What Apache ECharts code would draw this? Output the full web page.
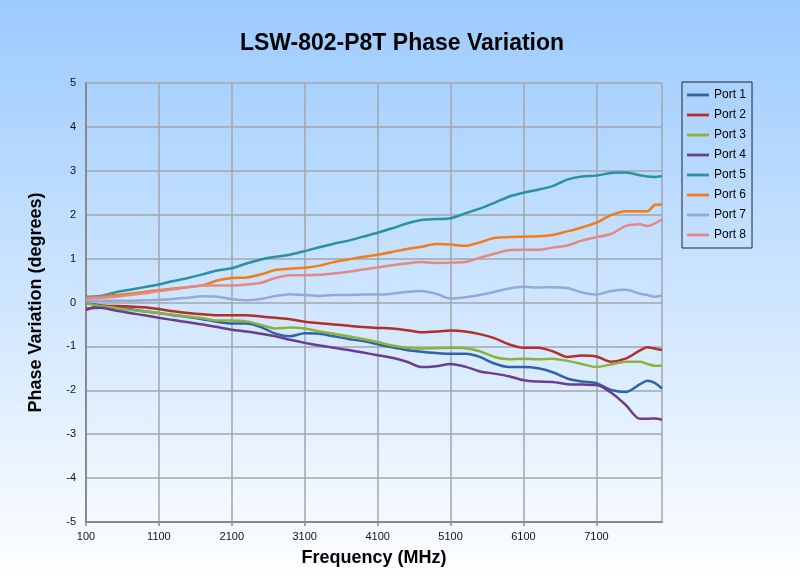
<!DOCTYPE html>
<html>
<head>
<meta charset="utf-8">
<script src="https://cdn.jsdelivr.net/npm/echarts@6/dist/echarts.min.js"></script>
<style>
html,body{margin:0;padding:0;}
#c{width:800px;height:581px;}
</style>
</head>
<body>
<div id="c"></div>
<script>
const freq = [100,300,500,700,900,1100,1300,1500,1700,1900,2100,2300,2500,2700,2900,3100,3300,3500,3700,3900,4100,
  4300,4500,4700,4900,5100,5300,5500,5700,5900,6100,6300,6500,6700,6900,7100,7300,7500,7700,7800,7900,8000];
const seriesNames = ['Port 1','Port 2','Port 3','Port 4','Port 5','Port 6','Port 7','Port 8'];
const port1 = [-0.02,-0.06,-0.11,-0.15,-0.20,-0.24,-0.29,-0.33,-0.38,-0.44,-0.48,-0.48,-0.56,-0.71,-0.77,-0.70,-0.71,-0.77,-0.83,-0.88,-0.95,
  -1.02,-1.08,-1.12,-1.15,-1.17,-1.17,-1.24,-1.39,-1.47,-1.47,-1.50,-1.59,-1.73,-1.80,-1.84,-1.99,-2.04,-1.86,-1.78,-1.83,-1.96];
const port2 = [-0.17,-0.08,-0.08,-0.09,-0.11,-0.15,-0.20,-0.24,-0.27,-0.29,-0.29,-0.29,-0.32,-0.35,-0.38,-0.44,-0.47,-0.50,-0.53,-0.56,-0.58,
  -0.59,-0.63,-0.68,-0.66,-0.64,-0.66,-0.72,-0.81,-0.95,-1.03,-1.03,-1.11,-1.24,-1.21,-1.23,-1.35,-1.28,-1.09,-1.02,-1.05,-1.08];
const port3 = [-0.02,-0.08,-0.12,-0.17,-0.20,-0.24,-0.28,-0.32,-0.36,-0.41,-0.41,-0.43,-0.51,-0.59,-0.57,-0.59,-0.66,-0.71,-0.77,-0.83,-0.90,
  -0.98,-1.03,-1.05,-1.04,-1.03,-1.04,-1.11,-1.24,-1.29,-1.28,-1.29,-1.28,-1.33,-1.40,-1.47,-1.41,-1.35,-1.35,-1.40,-1.44,-1.44];
const port4 = [-0.14,-0.12,-0.18,-0.24,-0.29,-0.35,-0.40,-0.45,-0.50,-0.56,-0.62,-0.66,-0.71,-0.77,-0.85,-0.92,-0.98,-1.03,-1.08,-1.14,-1.20,
  -1.26,-1.35,-1.47,-1.45,-1.40,-1.46,-1.57,-1.62,-1.68,-1.77,-1.80,-1.81,-1.86,-1.87,-1.88,-2.05,-2.33,-2.65,-2.65,-2.64,-2.67];
const port5 = [0.13,0.15,0.23,0.29,0.35,0.41,0.49,0.56,0.64,0.73,0.78,0.89,0.98,1.04,1.09,1.17,1.26,1.34,1.41,1.50,1.59,
  1.69,1.80,1.88,1.90,1.92,2.03,2.14,2.27,2.41,2.50,2.57,2.65,2.80,2.87,2.89,2.95,2.96,2.90,2.87,2.86,2.88];
const port6 = [0.11,0.13,0.17,0.20,0.24,0.28,0.32,0.35,0.39,0.50,0.56,0.57,0.64,0.74,0.77,0.79,0.84,0.92,0.98,1.04,1.09,
  1.15,1.22,1.27,1.33,1.32,1.29,1.37,1.47,1.49,1.50,1.51,1.54,1.62,1.71,1.82,1.99,2.08,2.08,2.08,2.22,2.23];
const port7 = [0.04,0.04,0.04,0.04,0.05,0.06,0.08,0.11,0.14,0.13,0.08,0.05,0.08,0.15,0.19,0.17,0.15,0.17,0.17,0.18,0.18,
  0.20,0.24,0.26,0.20,0.09,0.12,0.17,0.24,0.32,0.36,0.34,0.35,0.33,0.23,0.18,0.26,0.29,0.20,0.17,0.13,0.16];
const port8 = [0.09,0.11,0.13,0.17,0.21,0.26,0.30,0.35,0.39,0.39,0.39,0.41,0.45,0.56,0.62,0.62,0.63,0.66,0.70,0.75,0.80,
  0.85,0.89,0.92,0.90,0.91,0.92,1.02,1.11,1.19,1.20,1.20,1.25,1.30,1.41,1.49,1.56,1.74,1.78,1.74,1.80,1.89];
const colors = ['#2f62a9','#b52d28','#8cb23c','#6a3e8e','#2a91a5','#f07c1c','#92aad5','#e28985'];
const allPorts = [port1,port2,port3,port4,port5,port6,port7,port8];

const FONT = '"Liberation Sans", Arial, sans-serif';
// legend line sample: thin bar centred inside a 22x14 box (outer moveTo points fix the bounding box)
const LEGEND_LINE = 'path://M0,0 L0,0 M0,5.6 L22,5.6 L22,8.4 L0,8.4 Z M22,14 L22,14';
const chart = echarts.init(document.getElementById('c'), null, {renderer:'canvas'});
chart.setOption({
  animation: false,
  backgroundColor: new echarts.graphic.LinearGradient(0,0,0,1,[
    {offset:0,color:'#9bcafe'},{offset:1,color:'#ffffff'}]),
  title: {
    text: 'LSW-802-P8T Phase Variation',
    left: 397, top: 27, textAlign: 'center',
    textStyle: {fontFamily: FONT, fontSize: 23, fontWeight: 'bold', color: '#000'}
  },
  legend: {
    data: seriesNames.map(n => ({name: n, icon: LEGEND_LINE})),
    orient: 'vertical',
    left: 682, top: 82,
    itemWidth: 22, itemHeight: 14, itemGap: 6,
    padding: [6,6,6,5],
    borderColor: '#222', borderWidth: 1,
    textStyle: {fontFamily: FONT, fontSize: 12, color: '#000'}
  },
  grid: {left: 86, top: 83, right: 138, bottom: 59, containLabel: false},
  xAxis: {
    type: 'value', min: 100, max: 8000, interval: 1000,
    name: 'Frequency (MHz)', nameLocation: 'middle', nameGap: 27,
    nameTextStyle: {fontFamily: FONT, fontSize: 18, fontWeight: 'bold', color: '#000'},
    axisLine: {show: true, onZero: false, lineStyle: {color: '#8a8a8a', width: 2}},
    axisTick: {show: true, length: 4, lineStyle: {color: '#8a8a8a', width: 1.5}},
    axisLabel: {fontFamily: FONT, fontSize: 11, color: '#111', margin: 9, showMaxLabel: false,
      formatter: v => String(v)},
    splitLine: {show: true, lineStyle: {color: '#a2a6ab', width: 1.5}}
  },
  yAxis: {
    type: 'value', min: -5, max: 5, interval: 1,
    name: 'Phase Variation (degrees)', nameLocation: 'middle', nameGap: 41,
    nameTextStyle: {fontFamily: FONT, fontSize: 18, fontWeight: 'bold', color: '#000'},
    axisLine: {show: true, onZero: false, lineStyle: {color: '#8a8a8a', width: 2}},
    axisTick: {show: false},
    axisLabel: {fontFamily: FONT, fontSize: 11, color: '#111', margin: 10},
    splitLine: {show: true, lineStyle: {color: '#a2a6ab', width: 1.5}}
  },
  series: seriesNames.map((name, k) => ({
    name: name,
    type: 'line',
    symbol: 'none',
    smooth: 0.3,
    color: colors[k],
    itemStyle: {color: colors[k]},
    lineStyle: {width: 2.5, color: colors[k]},
    data: freq.map((f, i) => [f, allPorts[k][i]])
  }))
});
</script>
</body>
</html>
